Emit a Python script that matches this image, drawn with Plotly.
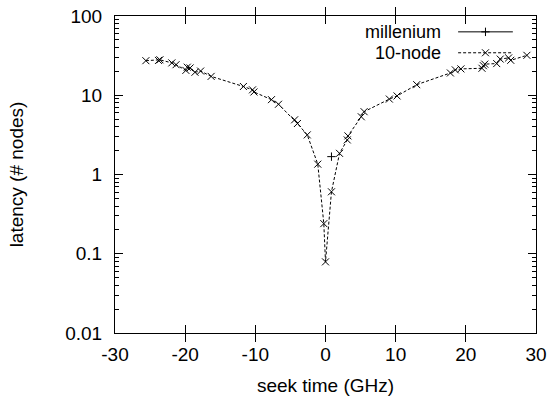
import plotly.graph_objects as go

# ---- data ----
node_x = [-25.6, -23.8, -23.6, -21.9, -21.3, -19.9, -19.7, -19.3, -18.6, -17.8,
          -16.3, -11.7, -10.4, -10.2, -7.7, -6.7, -4.4, -4.0, -2.6, -1.1,
          -0.24, 0.0,
          0.85, 2.0, 3.1, 3.2, 5.1, 5.5, 9.1, 10.2, 13.0, 17.8, 18.5, 19.3,
          22.3, 22.5, 22.7, 24.4, 24.9, 26.1, 26.4, 28.7]
node_y = [27.3, 27.5, 28.0, 25.6, 24.3, 20.6, 22.6, 22.1, 19.5, 20.2,
          17.3, 12.9, 11.7, 11.0, 8.8, 7.7, 4.9, 4.4, 3.16, 1.35,
          0.24, 0.079,
          0.605, 1.85, 2.73, 3.07, 5.35, 6.2, 8.95, 9.8, 13.6, 19.1, 20.9, 21.5,
          21.9, 23.6, 24.7, 25.1, 28.6, 29.6, 27.6, 31.9]
mill_x = [0.85]
mill_y = [1.68]

x_ticks = [-30, -20, -10, 0, 10, 20, 30]
x_tick_text = ["-30", "-20", "-10", "0", "10", "20", "30"]
y_ticks = [0.01, 0.1, 1, 10, 100]
y_tick_text = ["0.01", "0.1", "1", "10", "100"]
y_minor = [m * 10 ** k for k in range(-2, 2) for m in range(2, 10)]

series_names = ["millenium", "10-node"]

FONT = "Liberation Sans, Arial, sans-serif"
FS = 19
LFS = 18

fig = go.Figure()

fig.add_trace(go.Scatter(
    x=mill_x, y=mill_y, mode="lines+markers", name=series_names[0],
    line=dict(color="black", width=1),
    marker=dict(symbol="cross-thin", size=6, line=dict(color="black", width=1)),
    showlegend=False))

fig.add_trace(go.Scatter(
    x=node_x, y=node_y, mode="lines+markers", name=series_names[1],
    line=dict(color="black", width=1, dash="3px,2px"),
    marker=dict(symbol="x-thin", size=7, line=dict(color="black", width=1)),
    showlegend=False))

# ---- gnuplot-style key (text left, sample right) on overlay axes ----
key_rows = [0.950, 0.884]
styles = [dict(dash="solid", sym="cross-thin", size=6),
          dict(dash="3px,2px", sym="x-thin", size=7)]
for name, ky, st in zip(series_names, key_rows, styles):
    fig.add_trace(go.Scatter(
        x=[0.815, 0.945], y=[ky, ky], mode="lines", xaxis="x2", yaxis="y2",
        line=dict(color="black", width=1, dash=st["dash"]), showlegend=False,
        hoverinfo="skip"))
    fig.add_trace(go.Scatter(
        x=[0.88], y=[ky], mode="markers", xaxis="x2", yaxis="y2",
        marker=dict(symbol=st["sym"], size=st["size"], line=dict(color="black", width=1)),
        showlegend=False, hoverinfo="skip"))
    fig.add_annotation(x=0.78, y=ky, xref="x2", yref="y2", text=name,
                       showarrow=False, xanchor="right", yanchor="middle",
                       font=dict(family=FONT, size=LFS, color="black"))

axis_common = dict(showline=True, linecolor="black", linewidth=1, mirror="allticks",
                   ticks="inside", ticklen=8, tickcolor="black", tickwidth=1,
                   showgrid=False, zeroline=False, automargin=False,
                   tickfont=dict(family=FONT, size=FS, color="black"))

minor_y = dict(tickmode="array", tickvals=y_minor, ticks="inside",
               ticklen=4, tickcolor="black", showgrid=False)

fig.update_layout(
    width=554, height=397,
    margin=dict(l=115, r=18, t=16, b=64, autoexpand=False),
    paper_bgcolor="white", plot_bgcolor="white",
    font=dict(family=FONT, size=FS, color="black"),
    xaxis=dict(range=[-30, 30], tickmode="array", tickvals=x_ticks,
               ticktext=x_tick_text,
               title=dict(text="seek time (GHz)", standoff=14,
                          font=dict(family=FONT, size=FS, color="black")),
               ticklabelstandoff=4,
               **axis_common),
    yaxis=dict(type="log", range=[-2, 2], tickmode="array", tickvals=y_ticks,
               ticktext=y_tick_text, minor=minor_y,
               title=dict(text="latency (# nodes)", standoff=36,
                          font=dict(family=FONT, size=FS, color="black")),
               ticklabelstandoff=8,
               **axis_common),
    yaxis3=dict(type="log", range=[-2, 2], overlaying="y", side="right",
                tickmode="array", tickvals=y_ticks, showticklabels=False,
                ticks="inside", ticklen=8, tickcolor="black", showgrid=False,
                zeroline=False, showline=False, minor=minor_y, automargin=False),
    xaxis2=dict(range=[0, 1], overlaying="x", visible=False, domain=[0, 1]),
    yaxis2=dict(range=[0, 1], overlaying="y", visible=False, domain=[0, 1]),
)

# invisible trace to activate the right-side tick axis
fig.add_trace(go.Scatter(x=[0], y=[1], yaxis="y3", mode="markers",
                         marker=dict(opacity=0), showlegend=False, hoverinfo="skip"))

fig.write_html("out.html")
